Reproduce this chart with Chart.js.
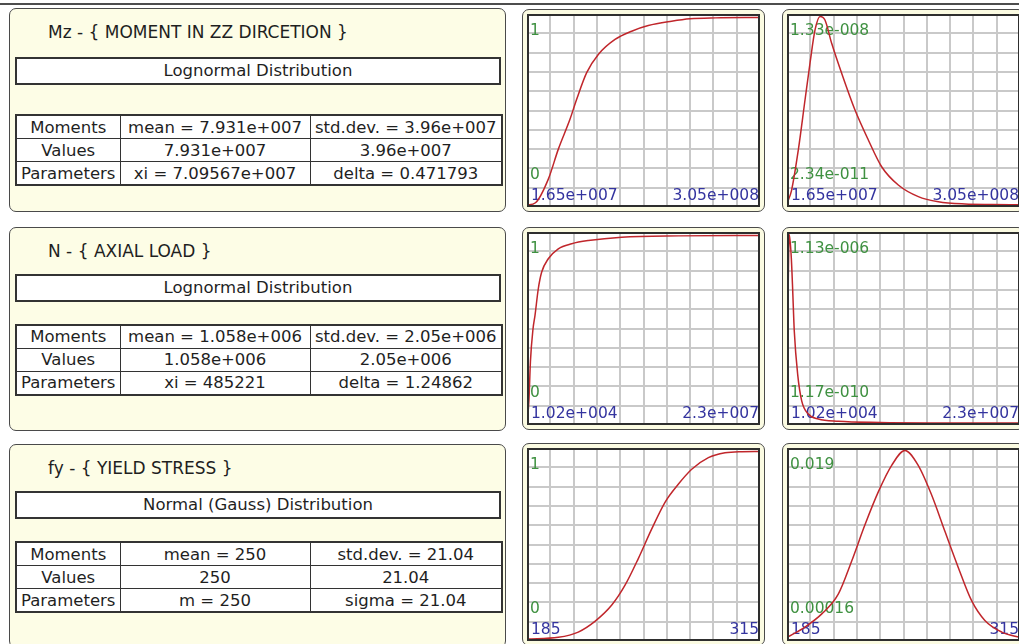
<!DOCTYPE html>
<html>
<head>
<meta charset="utf-8">
<title>Random variables</title>
<script src="https://cdn.jsdelivr.net/npm/chart.js@4.4.1/dist/chart.umd.min.js"></script>
<style>
  html, body { margin: 0; padding: 0; background: #ffffff; }
  body { position: relative; width: 1019px; height: 644px; overflow: hidden;
         font-family: "DejaVu Sans", "Noto Sans", sans-serif; color: #1f1f1f; }
  .rule { position: absolute; left: 0; top: 3px; width: 1019px; height: 2px; background: #4d4d4d; }
  .panel { position: absolute; left: 9px; width: 497px; height: 204px; box-sizing: border-box;
           background: #fdfde6; border: 1.5px solid #4a4a4a; border-radius: 7px; }
  .title { position: absolute; left: 38px; top: 13px; line-height: 21px; font-size: 17px; white-space: nowrap; }
  .dist { position: absolute; left: 5px; width: 486px; height: 28px; box-sizing: border-box;
          background: #ffffff; border: 2px solid #333333; text-align: center;
          font-size: 16.5px; line-height: 24px; }
  table.vals { position: absolute; left: 5px; width: 486px; border-collapse: collapse;
               background: #ffffff; border: 2px solid #333333; table-layout: fixed; }
  table.vals td { border: 1px solid #333333; padding: 0; height: 22px; line-height: 21px;
                  text-align: center; font-size: 16.5px; white-space: nowrap; overflow: hidden; }
  .box { position: absolute; box-sizing: border-box; background: #fbfbe2;
         border: 1.5px solid #4a4a4a; border-radius: 7px; }
  canvas { position: absolute; display: block; }
</style>
</head>
<body>
<div class="rule"></div>
<script>
// ---- Variables described in the three rows ----
const titles = ["Mz - { MOMENT IN ZZ DIRCETION }", "N - { AXIAL LOAD }", "fy - { YIELD STRESS }"];
const distNames = ["Lognormal Distribution", "Lognormal Distribution", "Normal (Gauss) Distribution"];
const rowHeads = ["Moments", "Values", "Parameters"];
const momentsText = [["mean = 7.931e+007", "std.dev. = 3.96e+007"],
                     ["mean = 1.058e+006", "std.dev. = 2.05e+006"],
                     ["mean = 250", "std.dev. = 21.04"]];
const valuesText = [["7.931e+007", "3.96e+007"],
                    ["1.058e+006", "2.05e+006"],
                    ["250", "21.04"]];
const paramsText = [["xi = 7.09567e+007", "delta = 0.471793"],
                    ["xi = 485221", "delta = 1.24862"],
                    ["m = 250", "sigma = 21.04"]];

// ---- Axis ranges and corner labels ----
const xMin = [1.65e7, 1.02e4, 185];
const xMax = [3.05e8, 2.3e7, 315];
const xMinLabels = ["1.65e+007", "1.02e+004", "185"];
const xMaxLabels = ["3.05e+008", "2.3e+007", "315"];
const cdfTop = [1, 1, 1];
const cdfBottom = [0, 0, 0];
const cdfTopLabels = ["1", "1", "1"];
const cdfBottomLabels = ["0", "0", "0"];
const pdfTop = [1.33e-8, 1.13e-6, 0.019];
const pdfBottom = [2.34e-11, 1.17e-10, 0.00016];
const pdfTopLabels = ["1.33e-008", "1.13e-006", "0.019"];
const pdfBottomLabels = ["2.34e-011", "1.17e-010", "0.00016"];

// ---- Curves: cumulative distribution (CDF) and density (PDF) ----
const mzCdfX = [1.65e7, 2.7e7, 4.29e7, 5.53e7, 6.97e7, 7.8e7, 9.04e7, 1.048e8, 1.255e8, 1.461e8, 1.667e8, 1.955e8, 2.183e8, 2.5e8, 3.05e8];
const mzCdfY = [0, 0.012, 0.138, 0.298, 0.457, 0.564, 0.706, 0.803, 0.883, 0.927, 0.957, 0.980, 0.993, 0.998, 1];
const mzPdfX = [1.65e7, 2.2e7, 3.05e7, 3.88e7, 4.5e7, 5.12e7, 5.74e7, 6.35e7, 7.18e7, 8.42e7, 1.007e8, 1.172e8, 1.337e8, 1.543e8, 1.791e8, 2.039e8, 2.369e8, 2.7e8, 3.05e8];
const mzPdfY = [1.2e-10, 1.0e-9, 3.88e-9, 7.41e-9, 1.002e-8, 1.235e-8, 1.33e-8, 1.305e-8, 1.141e-8, 9.29e-9, 6.70e-9, 4.59e-9, 2.70e-9, 1.41e-9, 5.9e-10, 2.3e-10, 7e-11, 3.5e-11, 2.34e-11];

const nCdfX = [1.02e4, 2.0e5, 3.5e5, 6.0e5, 8.0e5, 1.125e6, 1.46e6, 2.112e6, 3.098e6, 4.42e6, 6.06e6, 9.35e6, 1.5e7, 2.3e7];
const nCdfY = [0, 0.12, 0.33, 0.50, 0.574, 0.716, 0.805, 0.876, 0.929, 0.956, 0.973, 0.991, 0.998, 1];
const nPdfX = [1.02e4, 2.4e5, 4.35e5, 5.5e5, 7.3e5, 1.066e6, 1.46e6, 2.11e6, 3.1e6, 5.07e6, 9.19e6, 1.5e7, 2.3e7];
const nPdfY = [2.7e-7, 1.13e-6, 9.9e-7, 8.3e-7, 5.5e-7, 2.9e-7, 1.33e-7, 5.4e-8, 2.4e-8, 1.0e-8, 3e-9, 6e-10, 1.17e-10];

const fyCdfX = [185, 202.5, 213.6, 222.9, 232.3, 239.7, 247.1, 254.6, 262, 269.4, 276.9, 286.2, 295.5, 305, 315];
const fyCdfY = [0, 0.009, 0.037, 0.094, 0.181, 0.287, 0.429, 0.587, 0.729, 0.825, 0.905, 0.967, 0.993, 0.999, 1];
const fyPdfX = [185, 195.0, 204.4, 213.6, 221.1, 228.5, 236.0, 243.4, 250.8, 258.2, 265.7, 273.1, 280.6, 288.0, 295.4, 304.8, 315];
const fyPdfY = [0.00016, 0.0012, 0.00253, 0.00452, 0.00786, 0.01151, 0.01485, 0.0175, 0.019, 0.0175, 0.01451, 0.01085, 0.00719, 0.00386, 0.00187, 0.0007, 0.00016];

const cdfSeries = [[mzCdfX, mzCdfY], [nCdfX, nCdfY], [fyCdfX, fyCdfY]];
const pdfSeries = [[mzPdfX, mzPdfY], [nPdfX, nPdfY], [fyPdfX, fyPdfY]];

// ---- Layout ----
const panelTops = [8, 226.5, 443.5];
const distTops = [48, 46, 46];
const tableTops = [105, 96, 96.5];
const colWidths = [104, 190, 192];
const frameTops = [14, 232, 448];
const frameLefts = [527, 787];
const FRAME_W = 233, FRAME_H = 193, BOX_PAD = 5;
const GREEN = '#3f9141', BLUE = '#34349f', CURVE = '#c0262b';
const LABEL_FONT = '15.5px "DejaVu Sans", "Noto Sans", sans-serif';

// Text panels
titles.forEach((title, i) => {
  const p = document.createElement('div');
  p.className = 'panel';
  p.style.top = panelTops[i] + 'px';
  const t = document.createElement('div');
  t.className = 'title';
  t.textContent = title;
  p.appendChild(t);
  const d = document.createElement('div');
  d.className = 'dist';
  d.style.top = distTops[i] + 'px';
  d.textContent = distNames[i];
  p.appendChild(d);
  const tb = document.createElement('table');
  tb.className = 'vals';
  tb.style.top = tableTops[i] + 'px';
  const cg = document.createElement('colgroup');
  colWidths.forEach(w => { const c = document.createElement('col'); c.style.width = w + 'px'; cg.appendChild(c); });
  tb.appendChild(cg);
  [[rowHeads[0], ...momentsText[i]], [rowHeads[1], ...valuesText[i]], [rowHeads[2], ...paramsText[i]]].forEach(r => {
    const tr = tb.insertRow();
    r.forEach(txt => { const td = tr.insertCell(); td.textContent = txt; });
  });
  p.appendChild(tb);
  document.body.appendChild(p);
});

// Corner labels under the curve, frame on top
const cornerLabels = {
  id: 'cornerLabels',
  beforeDatasetsDraw(chart, args, o) {
    const { ctx, chartArea: a } = chart;
    ctx.save();
    ctx.font = LABEL_FONT;
    ctx.textBaseline = 'alphabetic';
    ctx.textAlign = 'left';
    ctx.fillStyle = GREEN;
    ctx.fillText(o.top, a.left + 3, a.top + 21);
    ctx.fillText(o.bottom, a.left + 3, a.bottom - 28);
    ctx.fillStyle = BLUE;
    ctx.fillText(o.xMin, a.left + 4, a.bottom - 7);
    ctx.textAlign = 'right';
    ctx.fillText(o.xMax, a.right - 1, a.bottom - 7);
    ctx.restore();
  },
  afterDraw(chart) {
    const { ctx, chartArea: a } = chart;
    ctx.save();
    ctx.strokeStyle = '#2e2e2e';
    ctx.lineWidth = 2;
    ctx.strokeRect(a.left + 1, a.top + 1, a.width - 2, a.height - 2);
    ctx.restore();
  }
};

// Ten equal grid divisions across each axis
function tenths(axis) {
  const lo = axis.min, hi = axis.max, out = [];
  for (let k = 0; k <= 10; k++) out.push({ value: lo + (hi - lo) * k / 10 });
  axis.ticks = out;
}

function axisRange(lo, hi, padTop, padBottom) {
  const unit = (hi - lo) / (FRAME_H - padTop - padBottom);
  return { min: lo - padBottom * unit, max: hi + padTop * unit };
}

function makeChart(left, top, xs, ys, i, labels, lo, hi, padTop) {
  const box = document.createElement('div');
  box.className = 'box';
  box.style.left = (left - BOX_PAD) + 'px';
  box.style.top = (top - BOX_PAD) + 'px';
  box.style.width = (FRAME_W + 2 * BOX_PAD) + 'px';
  box.style.height = (FRAME_H + 2 * BOX_PAD) + 'px';
  document.body.appendChild(box);

  const cv = document.createElement('canvas');
  cv.width = FRAME_W; cv.height = FRAME_H;
  cv.style.left = left + 'px'; cv.style.top = top + 'px';
  cv.style.width = FRAME_W + 'px'; cv.style.height = FRAME_H + 'px';
  cv.style.background = '#ffffff';
  document.body.appendChild(cv);

  const yr = axisRange(lo, hi, padTop, 2);
  const grid = { color: '#c9c9c9', lineWidth: 2, drawTicks: false };
  new Chart(cv, {
    type: 'line',
    data: {
      datasets: [{
        data: xs.map((x, k) => ({ x: x, y: ys[k] })),
        borderColor: CURVE,
        borderWidth: 1.5,
        pointRadius: 0,
        fill: false,
        cubicInterpolationMode: 'monotone'
      }]
    },
    options: {
      responsive: false,
      animation: false,
      events: [],
      devicePixelRatio: 1,
      layout: { padding: 0 },
      plugins: { legend: { display: false }, tooltip: { enabled: false }, cornerLabels: labels },
      scales: {
        x: { type: 'linear', min: xMin[i], max: xMax[i], ticks: { display: false },
             grid: grid, border: { display: false }, afterBuildTicks: tenths },
        y: { type: 'linear', min: yr.min, max: yr.max, ticks: { display: false },
             grid: grid, border: { display: false }, afterBuildTicks: tenths }
      }
    },
    plugins: [cornerLabels]
  });
}

for (let i = 0; i < 3; i++) {
  makeChart(frameLefts[0], frameTops[i], cdfSeries[i][0], cdfSeries[i][1], i,
    { top: cdfTopLabels[i], bottom: cdfBottomLabels[i], xMin: xMinLabels[i], xMax: xMaxLabels[i] },
    cdfBottom[i], cdfTop[i], 3.5);
  makeChart(frameLefts[1], frameTops[i], pdfSeries[i][0], pdfSeries[i][1], i,
    { top: pdfTopLabels[i], bottom: pdfBottomLabels[i], xMin: xMinLabels[i], xMax: xMaxLabels[i] },
    0, pdfTop[i], 2.5);
}
</script>
</body>
</html>
